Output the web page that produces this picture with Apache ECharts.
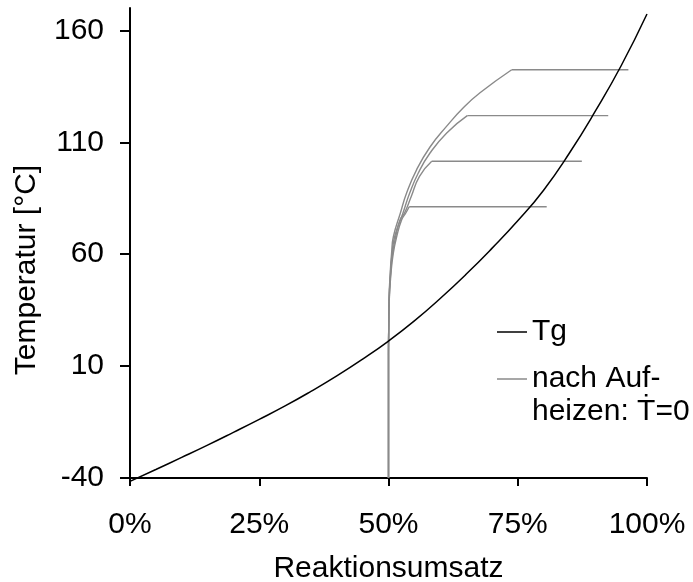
<!DOCTYPE html>
<html>
<head>
<meta charset="utf-8">
<script src="https://cdn.jsdelivr.net/npm/echarts@6/dist/echarts.min.js"></script>
<style>
  html, body { margin: 0; padding: 0; background: #ffffff; }
  #chart { width: 693px; height: 582px; }
</style>
</head>
<body>
<div id="chart"></div>
<script>
// Glass transition temperature Tg over degree of cure (conversion in %)
const tgConversion  = [0, 5, 10, 15, 20, 25, 30, 35, 40, 45, 50, 55, 60, 65, 70, 75, 80, 85, 90, 95, 100];
const tgTemperature = [-41.5, -36.2, -30.8, -25.3, -19.6, -13.8, -7.8, -1.3, 5.6, 13.1, 21.2, 30.2, 40.2, 51.0, 62.6, 74.9, 88.6, 105.2, 123.9, 144.2, 167.3];

// Cure paths after heating up until dT/dt = 0 (rising part of each path)
const path1Conversion  = [50, 50, 50.05, 50.15, 50.48, 50.93, 51.59, 52.55, 53.35, 54.0];
const path1Temperature = [-40, 15, 27.6, 39.6, 51.5, 60.5, 67.9, 75.4, 78.4, 81.2];

const path2Conversion  = [50, 50, 50.05, 50.13, 50.42, 50.8, 51.4, 52.25, 53.1, 54.4, 56.0, 58.36];
const path2Temperature = [-40, 15, 27.6, 39.6, 51.5, 60.5, 67.9, 75.4, 78.4, 85.8, 94.8, 101.5];

const path3Conversion  = [50, 50, 50.05, 50.12, 50.38, 50.7, 51.2, 52.8, 54.1, 55.76, 58.03, 61.26, 65.24];
const path3Temperature = [-40, 15, 27.6, 39.6, 51.5, 60.5, 67.9, 78.4, 87.3, 96.3, 105.2, 114.2, 121.9];

const path4Conversion  = [50, 50, 50.05, 50.1, 50.33, 50.6, 50.95, 52.3, 53.5, 55.45, 58.03, 61.26, 64.47, 67.7, 73.83];
const path4Temperature = [-40, 15, 27.6, 39.6, 51.5, 60.5, 67.9, 78.4, 87.3, 97.8, 107.9, 117.2, 125.4, 132.1, 142.4];

// Isothermal plateaus at the end of each path: start / end conversion and temperature
const plateauStart       = [54.0, 58.36, 65.24, 73.83];
const plateauEnd         = [80.6, 87.4, 92.5, 96.4];
const plateauTemperature = [81.2, 101.5, 121.9, 142.4];

const yTicks = [-40, 10, 60, 110, 160];

const TG_NAME = 'Tg';
const PATH_NAME = 'nach Auf-\nheizen: \u1E6A=0';

const FONT = '"Liberation Sans", Arial, sans-serif';
const GREY = '#8a8a8a';

function zipPairs(xs, ys) {
  return xs.map((x, i) => [x, ys[i]]);
}

const plateauData = [];
plateauStart.forEach((s, i) => {
  plateauData.push([s, plateauTemperature[i]]);
  plateauData.push([plateauEnd[i], plateauTemperature[i]]);
  if (i < plateauStart.length - 1) plateauData.push('-');
});

const pathSeries = [
  [path1Conversion, path1Temperature],
  [path2Conversion, path2Temperature],
  [path3Conversion, path3Temperature],
  [path4Conversion, path4Temperature]
].map(([xs, ys]) => ({
  name: PATH_NAME,
  type: 'line',
  data: zipPairs(xs, ys),
  smooth: 0.5,
  symbol: 'none',
  lineStyle: { color: GREY, width: 1.4 },
  itemStyle: { color: GREY },
  silent: true,
  z: 2
}));

const legendText = { fontSize: 30, color: '#000', fontFamily: FONT, lineHeight: 33 };

const chart = echarts.init(document.getElementById('chart'), null, { renderer: 'canvas' });

chart.setOption({
  animation: false,
  backgroundColor: '#ffffff',
  textStyle: { fontFamily: FONT },
  grid: { left: 130, right: 46, top: 8, bottom: 104, containLabel: false, outerBoundsMode: 'none' },
  legend: [
    {
      data: [TG_NAME],
      left: 497,
      top: 315.5,
      padding: 0,
      icon: 'rect',
      itemWidth: 30,
      itemHeight: 1.5,
      textStyle: legendText
    },
    {
      data: [PATH_NAME],
      left: 497,
      top: 329.5,
      padding: 0,
      icon: 'rect',
      itemWidth: 30,
      itemHeight: 1.5,
      // blank first line keeps the icon level with "nach Auf-"
      formatter: (name) => ' \n' + name,
      textStyle: legendText
    }
  ],
  xAxis: {
    type: 'value',
    min: 0,
    max: 100,
    interval: 25,
    name: 'Reaktionsumsatz',
    nameLocation: 'middle',
    nameGap: 76,
    nameTextStyle: { fontSize: 30, color: '#000', fontFamily: FONT },
    axisLine: { show: true, onZero: false, lineStyle: { color: '#000', width: 2 } },
    axisTick: { show: true, length: 8, lineStyle: { color: '#000', width: 2 } },
    axisLabel: { fontSize: 30, color: '#000', margin: 32, fontFamily: FONT, formatter: '{value}%' },
    splitLine: { show: false }
  },
  yAxis: {
    type: 'value',
    min: -40,
    max: 170,
    interval: 50,
    name: 'Temperatur [°C]',
    nameLocation: 'middle',
    nameGap: 88,
    nameTextStyle: { fontSize: 30, color: '#000', fontFamily: FONT, padding: [0, 54, 0, 0] },
    axisLine: { show: true, onZero: false, lineStyle: { color: '#000', width: 2 } },
    axisTick: { show: true, length: 10, customValues: yTicks, lineStyle: { color: '#000', width: 2 } },
    axisLabel: { fontSize: 30, color: '#000', margin: 26, fontFamily: FONT, customValues: yTicks },
    splitLine: { show: false }
  },
  series: [
    ...pathSeries,
    {
      name: PATH_NAME,
      type: 'line',
      data: plateauData,
      symbol: 'none',
      connectNulls: false,
      lineStyle: { color: GREY, width: 1.4 },
      itemStyle: { color: GREY },
      silent: true,
      z: 2
    },
    {
      name: TG_NAME,
      type: 'line',
      data: zipPairs(tgConversion, tgTemperature),
      smooth: 0.5,
      clip: false,
      symbol: 'none',
      lineStyle: { color: '#000', width: 1.5 },
      itemStyle: { color: '#000' },
      silent: true,
      z: 3
    }
  ]
});
</script>
</body>
</html>
